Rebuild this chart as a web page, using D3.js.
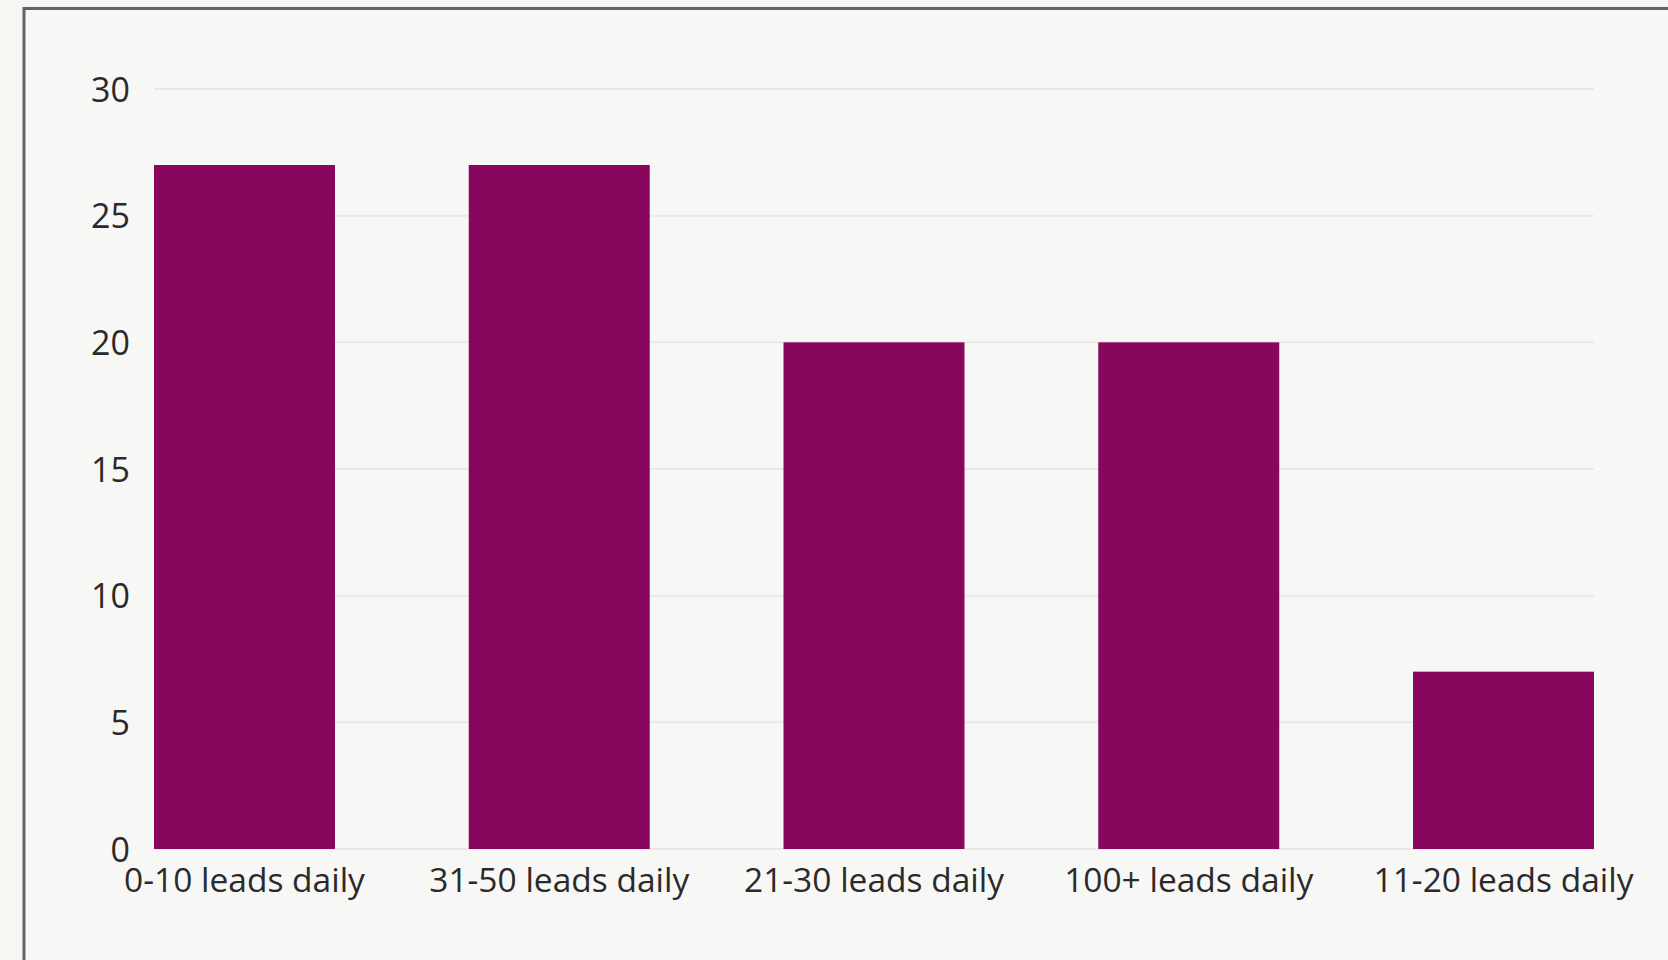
<!DOCTYPE html>
<html>
<head>
<meta charset="utf-8">
<script src="https://cdn.jsdelivr.net/npm/d3@7"></script>
<style>
  html, body { margin: 0; padding: 0; background: #f6f6f3; }
  svg { display: block; }
</style>
</head>
<body>
<svg id="chart" width="1668" height="960"></svg>
<script>
// Daily lead volume buckets and how many respondents fall into each
const categories = ["0-10 leads daily", "31-50 leads daily", "21-30 leads daily", "100+ leads daily", "11-20 leads daily"];
const counts = [27, 27, 20, 20, 7];
const yTicks = [0, 5, 10, 15, 20, 25, 30];

const W = 1668, H = 960;
const plot = { left: 154, right: 1594, top: 89, bottom: 849 };

const svg = d3.select("#chart");

// panel background and frame
svg.append("rect")
  .attr("x", 0).attr("y", 0).attr("width", W).attr("height", H)
  .attr("fill", "#f6f6f3");
svg.append("rect")
  .attr("x", 24).attr("y", 8.5).attr("width", W + 40).attr("height", H + 40)
  .attr("fill", "#f7f7f5")
  .attr("stroke", "#5d6568").attr("stroke-width", 3);

const x = d3.scaleBand()
  .domain(categories)
  .range([plot.left, plot.right])
  .paddingInner(0.425)
  .paddingOuter(0);

const y = d3.scaleLinear()
  .domain([0, 30])
  .range([plot.bottom, plot.top]);

// horizontal gridlines
svg.append("g")
  .selectAll("line")
  .data(yTicks)
  .join("line")
  .attr("x1", plot.left).attr("x2", plot.right)
  .attr("y1", d => y(d)).attr("y2", d => y(d))
  .attr("stroke", "#e9e9e6").attr("stroke-width", 2);

// y axis labels
const yAxis = d3.axisLeft(y).tickValues(yTicks).tickSize(0).tickPadding(0);
svg.append("g")
  .attr("transform", `translate(130,0)`)
  .call(yAxis)
  .call(g => g.select(".domain").remove())
  .call(g => g.selectAll("text")
    .attr("font-family", "'Open Sans', sans-serif")
    .attr("font-size", 34)
    .attr("font-weight", 500)
    .attr("fill", "#2a2a2a")
    .attr("dy", "0.36em"));

// bars
svg.append("g")
  .selectAll("rect")
  .data(categories.map((c, i) => ({ c, v: counts[i] })))
  .join("rect")
  .attr("x", d => x(d.c))
  .attr("width", x.bandwidth())
  .attr("y", d => y(d.v))
  .attr("height", d => y(0) - y(d.v))
  .attr("fill", "#89065e");

// x axis labels
const xAxis = d3.axisBottom(x).tickSize(0).tickPadding(0);
svg.append("g")
  .attr("transform", `translate(0,${plot.bottom})`)
  .call(xAxis)
  .call(g => g.select(".domain").remove())
  .call(g => g.selectAll("text")
    .attr("font-family", "'Open Sans', sans-serif")
    .attr("font-size", 33.5)
    .attr("font-weight", 500)
    .attr("fill", "#2a2a2a")
    .attr("y", 43)
    .attr("dy", 0));
</script>
</body>
</html>
